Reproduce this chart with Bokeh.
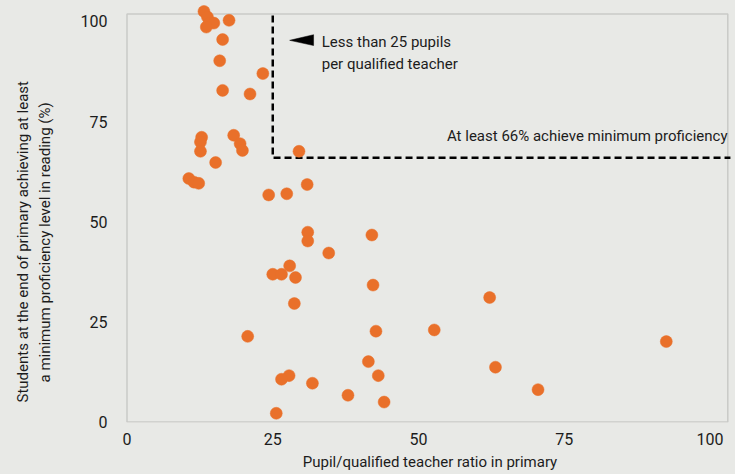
from bokeh.plotting import figure
from bokeh.models import Range1d, Label, FixedTicker, Title, LinearAxis
from bokeh.embed import file_html
from bokeh.resources import INLINE

# Data
pupil_teacher_ratio = [13.2, 13.8, 14.2, 14.9, 13.6, 17.5, 16.4, 15.9, 16.4, 21.1,
                       23.3, 12.8, 12.6, 12.6, 18.3, 19.4, 19.8, 15.2, 10.6, 11.5,
                       12.3, 29.5, 30.9, 24.3, 27.4, 31.0, 31.0, 42.0, 34.6, 27.9,
                       25.0, 26.5, 28.9, 42.2, 62.2, 28.7, 20.7, 42.7, 52.7, 92.5,
                       41.4, 63.2, 27.8, 26.5, 43.1, 31.8, 37.9, 70.5, 44.1, 25.6]
reading_min_prof = [102.5, 101.1, 99.6, 99.6, 98.6, 100.3, 95.5, 90.2, 82.8, 81.9,
                    87.0, 71.1, 69.9, 67.6, 71.6, 69.5, 67.8, 64.8, 60.8, 59.9,
                    59.6, 67.6, 59.3, 56.7, 57.0, 47.4, 45.2, 46.7, 42.2, 39.0,
                    36.9, 36.9, 36.1, 34.2, 31.1, 29.6, 21.4, 22.7, 23.0, 20.1,
                    15.1, 13.7, 11.6, 10.7, 11.6, 9.7, 6.7, 8.1, 5.0, 2.2]
x_ticks = [0, 25, 50, 75, 100]
y_ticks = [0, 25, 50, 75, 100]
ratio_threshold = 25
proficiency_threshold = 66

BG = "#e8e9e6"
ORANGE = "#e9702a"
TXT = "#1c1c1c"
FONT = "Roboto"

p = figure(width=735, height=474, output_backend="svg", toolbar_location=None,
           x_range=Range1d(-0.43, 104.37), y_range=Range1d(-0.1, 105.24),
           min_border_left=124, min_border_right=0, min_border_top=0, min_border_bottom=52)
p.background_fill_color = BG
p.border_fill_color = BG
p.outline_line_color = None
p.grid.visible = False

for ax in (p.xaxis[0], p.yaxis[0]):
    ax.axis_line_color = None
    ax.major_tick_line_color = None
    ax.minor_tick_line_color = None
    ax.major_tick_out = 0
    ax.major_label_text_font = FONT
    ax.major_label_text_font_size = "16px"
    ax.major_label_text_color = TXT
p.xaxis[0].ticker = FixedTicker(ticks=x_ticks)
p.yaxis[0].ticker = FixedTicker(ticks=y_ticks)
p.xaxis[0].major_label_standoff = 10
p.yaxis[0].major_label_standoff = 17

xa = p.xaxis[0]
xa.axis_label = "Pupil/qualified teacher ratio in primary"
xa.axis_label_text_font = FONT
xa.axis_label_text_font_size = "15px"
xa.axis_label_text_font_style = "normal"
xa.axis_label_text_color = TXT
xa.axis_label_standoff = 5

# blank spacer axis (background-coloured ticks, no labels) between tick labels and y title
spacer = LinearAxis(ticker=FixedTicker(ticks=y_ticks), axis_line_color=None,
                    major_tick_line_color=BG, major_tick_line_width=1,
                    minor_tick_line_color=None, major_tick_in=0, major_tick_out=24,
                    major_label_text_color=None, major_label_standoff=0)
p.add_layout(spacer, "left")

for txt, st, off in (("a minimum proficiency level in reading (%)", 0, 40),
                     ("Students at the end of primary achieving at least", 4, 20)):
    p.add_layout(Title(text=txt, align="left", offset=off, standoff=st,
                       text_font=FONT, text_font_size="15px", text_font_style="normal",
                       text_color=TXT), "left")

# plot-area frame
p.quad(left=[0], right=[103.05], bottom=[0], top=[101.9], fill_color=None,
       line_color="#c9cac7", line_width=1.5)

# threshold lines
p.line(x=[ratio_threshold, ratio_threshold, 103.5], y=[101.5, proficiency_threshold, proficiency_threshold],
       line_color="black", line_width=2.5, line_dash="7 4")

# arrow head
p.patch(x=[27.9, 32.0, 32.0], y=[95.3, 96.7, 94.0], fill_color="black", line_color="black", line_width=0.5)

p.scatter(pupil_teacher_ratio, reading_min_prof, size=12, fill_color=ORANGE,
          line_color=ORANGE, line_width=0.5)

def lab(x, y, text, align="left", size="15px"):
    p.add_layout(Label(x=x, y=y, text=text, text_align=align, text_baseline="middle",
                       text_font=FONT, text_font_size=size, text_color=TXT))

lab(33.4, 94.8, "Less than 25 pupils")
lab(33.4, 89.5, "per qualified teacher")
lab(103.0, 71.3, "At least 66% achieve minimum proficiency", align="right")

html = file_html(p, INLINE)
html = html.replace("<head>", "<head><style>html,body{background:%s;}</style>" % BG, 1)
open("out.html", "w").write(html)
